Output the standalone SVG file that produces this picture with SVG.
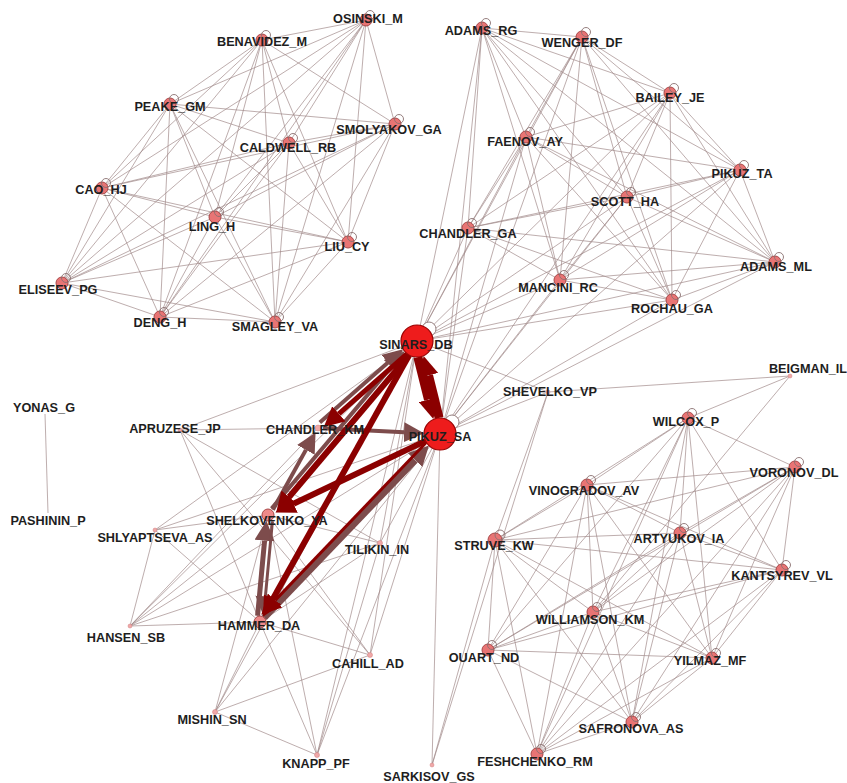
<svg xmlns="http://www.w3.org/2000/svg" width="847" height="783" viewBox="0 0 847 783">
<style>
.e line{stroke:#a08888;stroke-width:.8;opacity:.85}
.t{font-family:"Liberation Sans",Arial,sans-serif;font-weight:bold;font-size:12.7px;fill:#1e1e1e;text-anchor:middle}
.n{fill:#e87474;stroke:#a84848;stroke-width:1}
.big{fill:#ee1c1c;stroke:#9a0000;stroke-width:1.2}
.tiny{fill:#f0a8a8;stroke:#d08080;stroke-width:.5}
.lp{fill:none;stroke:#8a7070;stroke-width:.9}
.lpb{fill:#fff;stroke:#8a7070;stroke-width:.9}
.dr{stroke:#8b0000;fill:none}
.br{stroke:#7d4c4c;fill:none}
</style>
<defs>
<marker id="hd" markerUnits="userSpaceOnUse" markerWidth="20" markerHeight="20" refX="0" refY="10" orient="auto" viewBox="0 0 20 20"><path d="M0,0L20,10L0,20z" fill="#8b0000"/></marker>
<marker id="hb" markerUnits="userSpaceOnUse" markerWidth="20" markerHeight="20" refX="0" refY="10" orient="auto" viewBox="0 0 20 20"><path d="M0,0L20,10L0,20z" fill="#7d4c4c"/></marker>
</defs>
<rect width="847" height="783" fill="#fff"/>
<g id="connectors">
<g class="e">
<line x1="366" y1="20" x2="262" y2="40"/><line x1="366" y1="20" x2="170" y2="104"/><line x1="366" y1="20" x2="395" y2="124"/><line x1="366" y1="20" x2="289" y2="143"/><line x1="366" y1="20" x2="102" y2="188"/><line x1="366" y1="20" x2="215" y2="217"/><line x1="366" y1="20" x2="348" y2="242"/><line x1="366" y1="20" x2="62" y2="283"/><line x1="366" y1="20" x2="160" y2="317"/><line x1="366" y1="20" x2="275" y2="322"/>
<line x1="262" y1="40" x2="170" y2="104"/><line x1="262" y1="40" x2="395" y2="124"/><line x1="262" y1="40" x2="289" y2="143"/><line x1="262" y1="40" x2="102" y2="188"/><line x1="262" y1="40" x2="215" y2="217"/><line x1="262" y1="40" x2="348" y2="242"/><line x1="262" y1="40" x2="62" y2="283"/><line x1="262" y1="40" x2="160" y2="317"/><line x1="262" y1="40" x2="275" y2="322"/>
<line x1="170" y1="104" x2="395" y2="124"/><line x1="170" y1="104" x2="289" y2="143"/><line x1="170" y1="104" x2="102" y2="188"/><line x1="170" y1="104" x2="215" y2="217"/><line x1="170" y1="104" x2="348" y2="242"/><line x1="170" y1="104" x2="62" y2="283"/><line x1="170" y1="104" x2="160" y2="317"/><line x1="170" y1="104" x2="275" y2="322"/>
<line x1="395" y1="124" x2="289" y2="143"/><line x1="395" y1="124" x2="102" y2="188"/><line x1="395" y1="124" x2="215" y2="217"/><line x1="395" y1="124" x2="348" y2="242"/><line x1="395" y1="124" x2="62" y2="283"/><line x1="395" y1="124" x2="160" y2="317"/><line x1="395" y1="124" x2="275" y2="322"/>
<line x1="289" y1="143" x2="102" y2="188"/><line x1="289" y1="143" x2="215" y2="217"/><line x1="289" y1="143" x2="348" y2="242"/><line x1="289" y1="143" x2="62" y2="283"/><line x1="289" y1="143" x2="160" y2="317"/><line x1="289" y1="143" x2="275" y2="322"/>
<line x1="102" y1="188" x2="215" y2="217"/><line x1="102" y1="188" x2="348" y2="242"/><line x1="102" y1="188" x2="62" y2="283"/><line x1="102" y1="188" x2="160" y2="317"/><line x1="102" y1="188" x2="275" y2="322"/>
<line x1="215" y1="217" x2="348" y2="242"/><line x1="215" y1="217" x2="62" y2="283"/><line x1="215" y1="217" x2="160" y2="317"/><line x1="215" y1="217" x2="275" y2="322"/>
<line x1="348" y1="242" x2="62" y2="283"/><line x1="348" y1="242" x2="160" y2="317"/><line x1="348" y1="242" x2="275" y2="322"/>
<line x1="62" y1="283" x2="160" y2="317"/><line x1="62" y1="283" x2="275" y2="322"/><line x1="160" y1="317" x2="275" y2="322"/>
<line x1="482" y1="28" x2="582" y2="37"/><line x1="482" y1="28" x2="670" y2="93"/><line x1="482" y1="28" x2="526" y2="137"/><line x1="482" y1="28" x2="740" y2="170"/><line x1="482" y1="28" x2="627" y2="197"/><line x1="482" y1="28" x2="468" y2="228"/><line x1="482" y1="28" x2="775" y2="262"/><line x1="482" y1="28" x2="560" y2="280"/><line x1="482" y1="28" x2="672" y2="300"/><line x1="482" y1="28" x2="417" y2="341"/><line x1="482" y1="28" x2="440" y2="434"/>
<line x1="582" y1="37" x2="670" y2="93"/><line x1="582" y1="37" x2="526" y2="137"/><line x1="582" y1="37" x2="740" y2="170"/><line x1="582" y1="37" x2="627" y2="197"/><line x1="582" y1="37" x2="468" y2="228"/><line x1="582" y1="37" x2="775" y2="262"/><line x1="582" y1="37" x2="560" y2="280"/><line x1="582" y1="37" x2="672" y2="300"/><line x1="582" y1="37" x2="417" y2="341"/><line x1="582" y1="37" x2="440" y2="434"/>
<line x1="670" y1="93" x2="526" y2="137"/><line x1="670" y1="93" x2="740" y2="170"/><line x1="670" y1="93" x2="627" y2="197"/><line x1="670" y1="93" x2="468" y2="228"/><line x1="670" y1="93" x2="775" y2="262"/><line x1="670" y1="93" x2="560" y2="280"/><line x1="670" y1="93" x2="672" y2="300"/><line x1="670" y1="93" x2="417" y2="341"/><line x1="670" y1="93" x2="440" y2="434"/>
<line x1="526" y1="137" x2="740" y2="170"/><line x1="526" y1="137" x2="627" y2="197"/><line x1="526" y1="137" x2="468" y2="228"/><line x1="526" y1="137" x2="775" y2="262"/><line x1="526" y1="137" x2="560" y2="280"/><line x1="526" y1="137" x2="672" y2="300"/><line x1="526" y1="137" x2="417" y2="341"/><line x1="526" y1="137" x2="440" y2="434"/>
<line x1="740" y1="170" x2="627" y2="197"/><line x1="740" y1="170" x2="468" y2="228"/><line x1="740" y1="170" x2="775" y2="262"/><line x1="740" y1="170" x2="560" y2="280"/><line x1="740" y1="170" x2="672" y2="300"/><line x1="740" y1="170" x2="417" y2="341"/><line x1="740" y1="170" x2="440" y2="434"/>
<line x1="627" y1="197" x2="468" y2="228"/><line x1="627" y1="197" x2="775" y2="262"/><line x1="627" y1="197" x2="560" y2="280"/><line x1="627" y1="197" x2="672" y2="300"/><line x1="627" y1="197" x2="417" y2="341"/><line x1="627" y1="197" x2="440" y2="434"/>
<line x1="468" y1="228" x2="775" y2="262"/><line x1="468" y1="228" x2="560" y2="280"/><line x1="468" y1="228" x2="672" y2="300"/><line x1="468" y1="228" x2="417" y2="341"/><line x1="468" y1="228" x2="440" y2="434"/>
<line x1="775" y1="262" x2="560" y2="280"/><line x1="775" y1="262" x2="672" y2="300"/><line x1="775" y1="262" x2="417" y2="341"/><line x1="775" y1="262" x2="440" y2="434"/>
<line x1="560" y1="280" x2="672" y2="300"/><line x1="560" y1="280" x2="417" y2="341"/><line x1="560" y1="280" x2="440" y2="434"/><line x1="672" y1="300" x2="417" y2="341"/><line x1="672" y1="300" x2="440" y2="434"/>
<line x1="688" y1="418" x2="795" y2="467"/><line x1="688" y1="418" x2="587" y2="485"/><line x1="688" y1="418" x2="680" y2="533"/><line x1="688" y1="418" x2="782" y2="570"/><line x1="688" y1="418" x2="495" y2="540"/><line x1="688" y1="418" x2="593" y2="612"/><line x1="688" y1="418" x2="488" y2="650"/><line x1="688" y1="418" x2="712" y2="658"/><line x1="688" y1="418" x2="632" y2="722"/><line x1="688" y1="418" x2="537" y2="754"/>
<line x1="795" y1="467" x2="587" y2="485"/><line x1="795" y1="467" x2="680" y2="533"/><line x1="795" y1="467" x2="782" y2="570"/><line x1="795" y1="467" x2="495" y2="540"/><line x1="795" y1="467" x2="593" y2="612"/><line x1="795" y1="467" x2="488" y2="650"/><line x1="795" y1="467" x2="712" y2="658"/><line x1="795" y1="467" x2="632" y2="722"/><line x1="795" y1="467" x2="537" y2="754"/>
<line x1="587" y1="485" x2="680" y2="533"/><line x1="587" y1="485" x2="782" y2="570"/><line x1="587" y1="485" x2="495" y2="540"/><line x1="587" y1="485" x2="593" y2="612"/><line x1="587" y1="485" x2="488" y2="650"/><line x1="587" y1="485" x2="712" y2="658"/><line x1="587" y1="485" x2="632" y2="722"/><line x1="587" y1="485" x2="537" y2="754"/>
<line x1="680" y1="533" x2="782" y2="570"/><line x1="680" y1="533" x2="495" y2="540"/><line x1="680" y1="533" x2="593" y2="612"/><line x1="680" y1="533" x2="488" y2="650"/><line x1="680" y1="533" x2="712" y2="658"/><line x1="680" y1="533" x2="632" y2="722"/><line x1="680" y1="533" x2="537" y2="754"/>
<line x1="782" y1="570" x2="495" y2="540"/><line x1="782" y1="570" x2="593" y2="612"/><line x1="782" y1="570" x2="488" y2="650"/><line x1="782" y1="570" x2="712" y2="658"/><line x1="782" y1="570" x2="632" y2="722"/><line x1="782" y1="570" x2="537" y2="754"/>
<line x1="495" y1="540" x2="593" y2="612"/><line x1="495" y1="540" x2="488" y2="650"/><line x1="495" y1="540" x2="712" y2="658"/><line x1="495" y1="540" x2="632" y2="722"/><line x1="495" y1="540" x2="537" y2="754"/>
<line x1="593" y1="612" x2="488" y2="650"/><line x1="593" y1="612" x2="712" y2="658"/><line x1="593" y1="612" x2="632" y2="722"/><line x1="593" y1="612" x2="537" y2="754"/>
<line x1="488" y1="650" x2="712" y2="658"/><line x1="488" y1="650" x2="632" y2="722"/><line x1="488" y1="650" x2="537" y2="754"/><line x1="712" y1="658" x2="632" y2="722"/><line x1="712" y1="658" x2="537" y2="754"/><line x1="632" y1="722" x2="537" y2="754"/>
<line x1="45" y1="414" x2="48" y2="513"/>
<line x1="790" y1="376" x2="688" y2="418"/><line x1="790" y1="376" x2="548" y2="392"/><line x1="790" y1="376" x2="593" y2="612"/>
<line x1="548" y1="392" x2="440" y2="434"/><line x1="548" y1="392" x2="417" y2="341"/><line x1="548" y1="392" x2="495" y2="540"/><line x1="548" y1="392" x2="432" y2="765"/>
<line x1="432" y1="765" x2="495" y2="540"/><line x1="432" y1="765" x2="440" y2="434"/>
<line x1="180" y1="430" x2="417" y2="341"/><line x1="180" y1="430" x2="318" y2="428"/><line x1="180" y1="430" x2="260" y2="622"/><line x1="180" y1="430" x2="370" y2="655"/><line x1="180" y1="430" x2="380" y2="543"/>
<line x1="155" y1="530" x2="417" y2="341"/><line x1="155" y1="530" x2="440" y2="434"/><line x1="155" y1="530" x2="268" y2="515"/><line x1="155" y1="530" x2="260" y2="622"/><line x1="155" y1="530" x2="130" y2="626"/>
<line x1="130" y1="626" x2="260" y2="622"/><line x1="130" y1="626" x2="417" y2="341"/><line x1="130" y1="626" x2="440" y2="434"/><line x1="130" y1="626" x2="268" y2="515"/><line x1="130" y1="626" x2="318" y2="428"/><line x1="130" y1="626" x2="380" y2="543"/>
<line x1="215" y1="712" x2="260" y2="622"/><line x1="215" y1="712" x2="268" y2="515"/><line x1="215" y1="712" x2="417" y2="341"/><line x1="215" y1="712" x2="440" y2="434"/><line x1="215" y1="712" x2="370" y2="655"/><line x1="215" y1="712" x2="317" y2="755"/>
<line x1="317" y1="755" x2="260" y2="622"/><line x1="317" y1="755" x2="268" y2="515"/><line x1="317" y1="755" x2="417" y2="341"/><line x1="317" y1="755" x2="440" y2="434"/><line x1="317" y1="755" x2="380" y2="543"/>
<line x1="370" y1="655" x2="260" y2="622"/><line x1="370" y1="655" x2="268" y2="515"/><line x1="370" y1="655" x2="417" y2="341"/><line x1="370" y1="655" x2="440" y2="434"/>
<line x1="380" y1="543" x2="417" y2="341"/><line x1="380" y1="543" x2="440" y2="434"/><line x1="380" y1="543" x2="268" y2="515"/><line x1="380" y1="543" x2="260" y2="622"/>
</g>
<g id="thick">
<path class="br" stroke-width="4" d="M271.6,508.5L391.5,366.6" marker-end="url(#hb)"/>
<path class="br" stroke-width="4" d="M319.8,422.4L388,362.5" marker-end="url(#hb)"/>
<path class="br" stroke-width="7" d="M264.2,617.7L415.1,460" marker-end="url(#hb)"/>
<path class="br" stroke-width="4" d="M272.9,509.8L305.9,449.9" marker-end="url(#hb)"/>
<path class="br" stroke-width="4" d="M323,428.2L404,432.2" marker-end="url(#hb)"/>
<path class="br" stroke-width="5" d="M257.6,615.7L264.6,540.6" marker-end="url(#hb)"/>
<path class="br" stroke-width="3" stroke="#6e3a3a" d="M272.4,521.3L265.4,596.4" marker-end="url(#hb)"/>
<path class="dr" stroke-width="9" d="M417.9,357.2L428.5,399.7" marker-end="url(#hd)"/>
<path class="dr" stroke-width="9" d="M439.1,417.8L428.5,375.3" marker-end="url(#hd)"/>
<path class="dr" stroke-width="6" d="M409,355.1L289.1,497" marker-end="url(#hd)"/>
<path class="dr" stroke-width="6" d="M409.2,355L272.7,599.3" marker-end="url(#hd)"/>
<path class="dr" stroke-width="6" d="M425.6,440.9L293.5,503.8" marker-end="url(#hd)"/>
<path class="dr" stroke-width="3" d="M426,442.8L275.1,600.4" marker-end="url(#hd)"/>
<path class="dr" stroke-width="5" d="M407,353.9L338.8,413.8" marker-end="url(#hd)"/>
</g>
</g>
<g id="osinski_m"><circle class="n" cx="366" cy="20" r="6"/><circle class="lp" cx="370" cy="15" r="4.5"/><text class="t" x="368" y="23">OSINSKI_M</text></g>
<g id="benavidez_m"><circle class="n" cx="262" cy="40" r="6"/><circle class="lp" cx="266" cy="35" r="4.5"/><text class="t" x="262" y="46">BENAVIDEZ_M</text></g>
<g id="peake_gm"><circle class="n" cx="170" cy="104" r="6"/><circle class="lp" cx="174" cy="99" r="4.5"/><text class="t" x="170" y="111">PEAKE_GM</text></g>
<g id="smolyakov_ga"><circle class="n" cx="395" cy="124" r="6"/><circle class="lp" cx="399" cy="119" r="4.5"/><text class="t" x="389" y="134">SMOLYAKOV_GA</text></g>
<g id="caldwell_rb"><circle class="n" cx="289" cy="143" r="6"/><circle class="lp" cx="293" cy="138" r="4.5"/><text class="t" x="288" y="152">CALDWELL_RB</text></g>
<g id="cao_hj"><circle class="n" cx="102" cy="188" r="6"/><circle class="lp" cx="106" cy="183" r="4.5"/><text class="t" x="101" y="194">CAO_HJ</text></g>
<g id="ling_h"><circle class="n" cx="215" cy="217" r="6"/><circle class="lp" cx="219" cy="212" r="4.5"/><text class="t" x="212" y="231">LING_H</text></g>
<g id="liu_cy"><circle class="n" cx="348" cy="242" r="6"/><circle class="lp" cx="352" cy="237" r="4.5"/><text class="t" x="347" y="251">LIU_CY</text></g>
<g id="eliseev_pg"><circle class="n" cx="62" cy="283" r="6"/><circle class="lp" cx="66" cy="278" r="4.5"/><text class="t" x="58" y="294">ELISEEV_PG</text></g>
<g id="deng_h"><circle class="n" cx="160" cy="317" r="6"/><circle class="lp" cx="164" cy="312" r="4.5"/><text class="t" x="160" y="327">DENG_H</text></g>
<g id="smagley_va"><circle class="n" cx="275" cy="322" r="6"/><circle class="lp" cx="279" cy="317" r="4.5"/><text class="t" x="275" y="331">SMAGLEY_VA</text></g>
<g id="adams_rg"><circle class="n" cx="482" cy="28" r="6"/><circle class="lp" cx="486" cy="23" r="4.5"/><text class="t" x="481" y="35">ADAMS_RG</text></g>
<g id="wenger_df"><circle class="n" cx="582" cy="37" r="6"/><circle class="lp" cx="586" cy="32" r="4.5"/><text class="t" x="582" y="47">WENGER_DF</text></g>
<g id="bailey_je"><circle class="n" cx="670" cy="93" r="6"/><circle class="lp" cx="674" cy="88" r="4.5"/><text class="t" x="670" y="102">BAILEY_JE</text></g>
<g id="faenov_ay"><circle class="n" cx="526" cy="137" r="6"/><circle class="lp" cx="530" cy="132" r="4.5"/><text class="t" x="525" y="146">FAENOV_AY</text></g>
<g id="pikuz_ta"><circle class="n" cx="740" cy="170" r="6"/><circle class="lp" cx="744" cy="165" r="4.5"/><text class="t" x="742" y="178">PIKUZ_TA</text></g>
<g id="scott_ha"><circle class="n" cx="627" cy="197" r="6"/><circle class="lp" cx="631" cy="192" r="4.5"/><text class="t" x="625" y="206">SCOTT_HA</text></g>
<g id="chandler_ga"><circle class="n" cx="468" cy="228" r="6"/><circle class="lp" cx="472" cy="223" r="4.5"/><text class="t" x="468" y="238">CHANDLER_GA</text></g>
<g id="adams_ml"><circle class="n" cx="775" cy="262" r="6"/><circle class="lp" cx="779" cy="257" r="4.5"/><text class="t" x="776" y="271">ADAMS_ML</text></g>
<g id="mancini_rc"><circle class="n" cx="560" cy="280" r="6"/><circle class="lp" cx="564" cy="275" r="4.5"/><text class="t" x="558" y="292">MANCINI_RC</text></g>
<g id="rochau_ga"><circle class="n" cx="672" cy="300" r="6"/><circle class="lp" cx="676" cy="295" r="4.5"/><text class="t" x="672" y="313">ROCHAU_GA</text></g>
<g id="sinars_db"><circle class="lpb" cx="429" cy="329" r="7"/><circle class="big" cx="417" cy="341" r="16"/><text class="t" x="416" y="349">SINARS_DB</text></g>
<g id="pikuz_sa"><circle class="lpb" cx="452" cy="422" r="7"/><circle class="big" cx="440" cy="434" r="16"/><text class="t" x="440" y="441">PIKUZ_SA</text></g>
<g id="shevelko_vp"><circle class="tiny" cx="548" cy="392" r="2"/><text class="t" x="550" y="396">SHEVELKO_VP</text></g>
<g id="beigman_il"><circle class="tiny" cx="790" cy="376" r="2"/><text class="t" x="808" y="373">BEIGMAN_IL</text></g>
<g id="yonas_g"><text class="t" x="44" y="412">YONAS_G</text></g>
<g id="pashinin_p"><text class="t" x="48" y="525">PASHININ_P</text></g>
<g id="apruzese_jp"><circle class="tiny" cx="180" cy="430" r="2"/><text class="t" x="175" y="433">APRUZESE_JP</text></g>
<g id="chandler_km"><circle class="tiny" cx="318" cy="428" r="3"/><text class="t" x="315" y="434">CHANDLER_KM</text></g>
<g id="shelkovenko_ya"><circle class="n" cx="268" cy="515" r="6" style="fill:#ee8a8a"/><text class="t" x="267" y="525">SHELKOVENKO_YA</text></g>
<g id="shlyaptseva_as"><circle class="tiny" cx="155" cy="530" r="2"/><text class="t" x="155" y="542">SHLYAPTSEVA_AS</text></g>
<g id="tilikin_in"><circle class="tiny" cx="380" cy="543" r="2.5"/><text class="t" x="377" y="554">TILIKIN_IN</text></g>
<g id="hammer_da"><circle class="n" cx="260" cy="622" r="6" style="fill:#ee8a8a"/><text class="t" x="259" y="630">HAMMER_DA</text></g>
<g id="hansen_sb"><circle class="tiny" cx="130" cy="626" r="2"/><text class="t" x="126" y="642">HANSEN_SB</text></g>
<g id="cahill_ad"><circle class="tiny" cx="370" cy="655" r="2.5"/><text class="t" x="368" y="668">CAHILL_AD</text></g>
<g id="mishin_sn"><circle class="tiny" cx="215" cy="712" r="2.5"/><text class="t" x="212" y="724">MISHIN_SN</text></g>
<g id="knapp_pf"><circle class="tiny" cx="317" cy="755" r="2.5"/><text class="t" x="316" y="768">KNAPP_PF</text></g>
<g id="sarkisov_gs"><circle class="tiny" cx="432" cy="765" r="2"/><text class="t" x="429" y="781">SARKISOV_GS</text></g>
<g id="wilcox_p"><circle class="n" cx="688" cy="418" r="6"/><circle class="lp" cx="692" cy="413" r="4.5"/><text class="t" x="686" y="426">WILCOX_P</text></g>
<g id="voronov_dl"><circle class="n" cx="795" cy="467" r="6"/><circle class="lp" cx="799" cy="462" r="4.5"/><text class="t" x="794" y="477">VORONOV_DL</text></g>
<g id="vinogradov_av"><circle class="n" cx="587" cy="485" r="6"/><circle class="lp" cx="591" cy="480" r="4.5"/><text class="t" x="584" y="495">VINOGRADOV_AV</text></g>
<g id="artyukov_ia"><circle class="n" cx="680" cy="533" r="6"/><circle class="lp" cx="684" cy="528" r="4.5"/><text class="t" x="679" y="543">ARTYUKOV_IA</text></g>
<g id="kantsyrev_vl"><circle class="n" cx="782" cy="570" r="6"/><circle class="lp" cx="786" cy="565" r="4.5"/><text class="t" x="782" y="580">KANTSYREV_VL</text></g>
<g id="struve_kw"><circle class="n" cx="495" cy="540" r="7"/><circle class="lp" cx="500" cy="535" r="5"/><text class="t" x="494" y="550">STRUVE_KW</text></g>
<g id="williamson_km"><circle class="n" cx="593" cy="612" r="6"/><circle class="lp" cx="597" cy="607" r="4.5"/><text class="t" x="590" y="624">WILLIAMSON_KM</text></g>
<g id="ouart_nd"><circle class="n" cx="488" cy="650" r="6"/><circle class="lp" cx="492" cy="645" r="4.5"/><text class="t" x="484" y="662">OUART_ND</text></g>
<g id="yilmaz_mf"><circle class="n" cx="712" cy="658" r="6"/><circle class="lp" cx="716" cy="653" r="4.5"/><text class="t" x="710" y="665">YILMAZ_MF</text></g>
<g id="safronova_as"><circle class="n" cx="632" cy="722" r="6"/><circle class="lp" cx="636" cy="717" r="4.5"/><text class="t" x="631" y="733">SAFRONOVA_AS</text></g>
<g id="feshchenko_rm"><circle class="n" cx="537" cy="754" r="6"/><circle class="lp" cx="541" cy="749" r="4.5"/><text class="t" x="535" y="766">FESHCHENKO_RM</text></g>
</svg>
